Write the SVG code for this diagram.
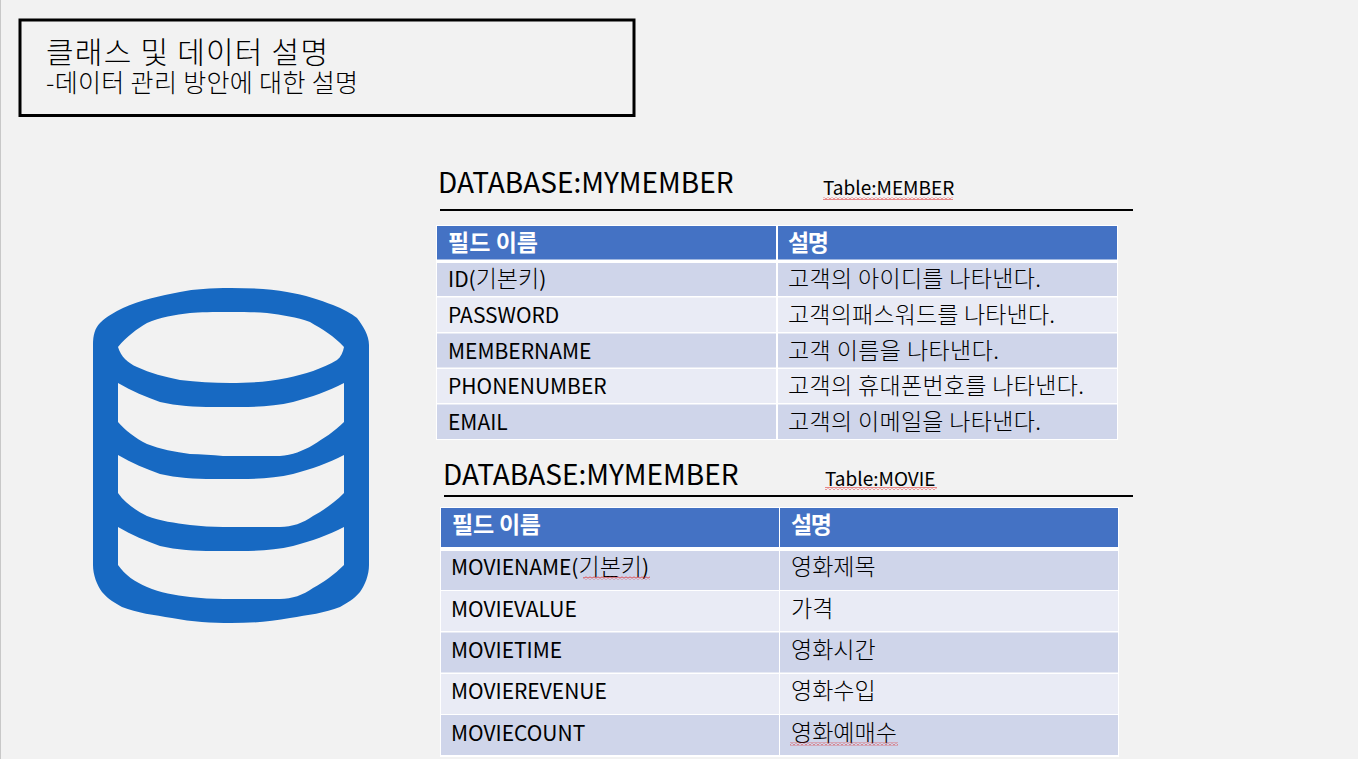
<svg xmlns="http://www.w3.org/2000/svg" width="1358" height="759" viewBox="0 0 1358 759">
<defs>
<pattern id="wavy" width="4" height="3" patternUnits="userSpaceOnUse"><path d="M0 2.500L2 0.500L4 2.500" fill="none" stroke="#e02020" stroke-width="1"/></pattern>
</defs>
<style>
text{font-family:"Noto Sans CJK KR","Open Sans",sans-serif;fill:#000;font-weight:400}
.c{font-size:21px}
.k{font-size:23px;font-weight:300}
.h{font-size:23px;fill:#fff;font-weight:700}
.db{font-size:28px}
.t{font-size:19px}
.hd{fill:#4472c4}.o{fill:#cfd5ea}.e{fill:#e9ebf5}
.sq{fill:url(#wavy)}
</style>
<rect width="1358" height="759" fill="#f2f2f2"/>
<rect x="0" y="0" width="1" height="759" fill="#c8c8c8"/>
<g id="title">
<rect x="20" y="20" width="614" height="95.500" fill="none" stroke="#000" stroke-width="3"/>
<text x="46" y="63" style="font-size:30px;font-weight:300" textLength="282">클래스 및 데이터 설명</text>
<text x="46" y="92" style="font-size:25px;font-weight:300" textLength="312">-데이터 관리 방안에 대한 설명</text>
</g>
<g id="database-icon">
<path fill="#1769c2" fill-rule="evenodd" d="M93 345C93 335 95 328 100 323C107 316 115 312 123 308C140 300 160 296 180 292C195 289 210 288 231 288C252 288 272 289 287 292C305 295 320 300 333 305C343 309 351 313 357 318C363 326 369 335 369 345V565C369 575 365 585 360 592C353 600 347 603 340 607C325 613 308 615 290 618C270 622 250 623 231 623C212 623 192 622 172 618C154 615 137 613 122 607C115 603 109 600 102 592C97 585 93 575 93 565ZM118 347C127 336 137 329 147 323C160 317 175 315 190 313C200 312 212 312 231 312C245 312 255 312 267 313C282 315 297 317 310 322C322 329 334 336 344 347C343 352 341 357 337 360C322 369 305 374 287 378C268 382 250 383 230 383C213 383 197 382 180 380C165 377 150 373 137 367C128 363 121 357 118 347ZM118 383C132 391 146 397 160 402C177 406 195 407 213 407H240C258 407 276 406 293 402C312 397 328 391 344 383V422C334 432 324 438 313 445C303 451 292 455 280 456H223C212 455 201 454 190 454C175 452 160 449 147 444C135 438 125 430 118 422ZM118 455C132 463 146 469 160 474C177 478 195 479 213 479H240C258 479 276 478 293 474C312 469 328 463 344 455V493C334 503 324 510 313 516C303 523 292 527 280 527H223C212 527 201 526 190 525C175 523 160 521 147 516C135 510 125 503 118 493ZM118 527C132 535 146 541 160 546C177 550 195 551 213 551H240C258 551 276 550 293 546C312 541 328 535 344 527V565C334 575 324 582 313 588C303 595 292 599 280 599H223C212 599 201 598 190 597C175 595 160 593 147 587C135 582 125 575 118 565Z"/>
</g>
<g id="member-heading">
<text class="db" x="438" y="193">DATABASE:MYMEMBER</text>
<text class="t" x="823" y="195">Table:MEMBER</text>
<rect class="sq" x="823" y="197" width="130" height="3"/>
<rect x="440" y="209" width="693" height="2" fill="#000"/>
</g>
<g id="member-table">
<rect x="436" y="225" width="682" height="215" fill="#fff"/>
<rect x="437" y="226" width="339" height="33.500" class="hd"/><rect x="778" y="226" width="339" height="33.500" class="hd"/>
<rect x="437" y="263" width="339" height="33" class="o"/><rect x="778" y="263" width="339" height="33" class="o"/>
<rect x="437" y="297.500" width="339" height="34.500" class="e"/><rect x="778" y="297.500" width="339" height="34.500" class="e"/>
<rect x="437" y="333.500" width="339" height="34" class="o"/><rect x="778" y="333.500" width="339" height="34" class="o"/>
<rect x="437" y="369" width="339" height="34" class="e"/><rect x="778" y="369" width="339" height="34" class="e"/>
<rect x="437" y="404.500" width="339" height="34.500" class="o"/><rect x="778" y="404.500" width="339" height="34.500" class="o"/>
<text class="h" x="448" y="251" textLength="90">필드 이름</text><text class="h" x="788" y="251" textLength="41">설명</text>
<text class="c" x="448" y="287">ID(<tspan class="k">기본키</tspan>)</text><text class="k" x="788" y="287" textLength="253">고객의 아이디를 나타낸다.</text>
<text class="c" x="448" y="323">PASSWORD</text><text class="k" x="788" y="323" textLength="267">고객의패스워드를 나타낸다.</text>
<text class="c" x="448" y="359">MEMBERNAME</text><text class="k" x="788" y="359" textLength="211">고객 이름을 나타낸다.</text>
<text class="c" x="448" y="394">PHONENUMBER</text><text class="k" x="788" y="394" textLength="296">고객의 휴대폰번호를 나타낸다.</text>
<text class="c" x="448" y="430">EMAIL</text><text class="k" x="788" y="430" textLength="253">고객의 이메일을 나타낸다.</text>
</g>
<g id="movie-heading">
<text class="db" x="443" y="485">DATABASE:MYMEMBER</text>
<text class="t" x="825" y="486">Table:MOVIE</text>
<rect class="sq" x="825" y="487" width="112" height="3"/>
<rect x="444" y="495" width="689" height="2" fill="#000"/>
</g>
<g id="movie-table">
<rect x="440" y="507" width="679" height="250" fill="#fff"/>
<rect x="441" y="508" width="338" height="39" class="hd"/><rect x="780" y="508" width="338" height="39" class="hd"/>
<rect x="441" y="551" width="338" height="39" class="o"/><rect x="780" y="551" width="338" height="39" class="o"/>
<rect x="441" y="591" width="338" height="40" class="e"/><rect x="780" y="591" width="338" height="40" class="e"/>
<rect x="441" y="632.500" width="338" height="40" class="o"/><rect x="780" y="632.500" width="338" height="40" class="o"/>
<rect x="441" y="674" width="338" height="40" class="e"/><rect x="780" y="674" width="338" height="40" class="e"/>
<rect x="441" y="715" width="338" height="40" class="o"/><rect x="780" y="715" width="338" height="40" class="o"/>
<text class="h" x="452" y="533" textLength="89">필드 이름</text><text class="h" x="791" y="533" textLength="41">설명</text>
<text class="c" x="451" y="575">MOVIENAME(<tspan class="k">기본키</tspan>)</text><text class="k" x="791" y="575">영화제목</text>
<text class="c" x="451" y="617">MOVIEVALUE</text><text class="k" x="791" y="617">가격</text>
<text class="c" x="451" y="658">MOVIETIME</text><text class="k" x="791" y="658">영화시간</text>
<text class="c" x="451" y="699">MOVIEREVENUE</text><text class="k" x="791" y="699">영화수입</text>
<text class="c" x="451" y="741">MOVIECOUNT</text><text class="k" x="791" y="741">영화예매수</text>
<rect class="sq" x="583" y="576.500" width="67" height="3"/>
<rect class="sq" x="790" y="742.500" width="108" height="3"/>
</g>
</svg>
